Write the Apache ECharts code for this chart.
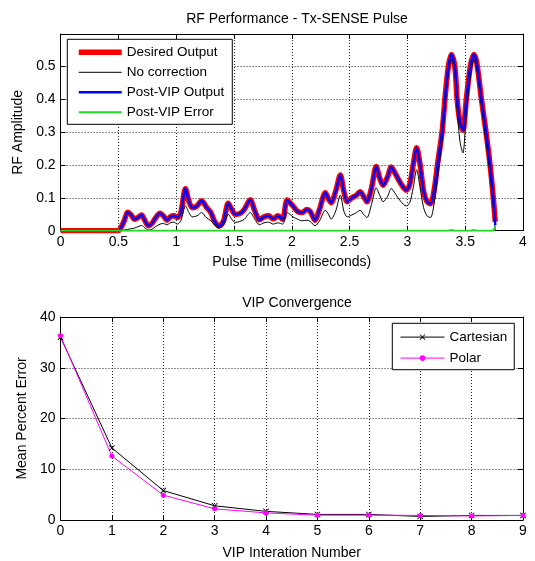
<!DOCTYPE html>
<html><head><meta charset="utf-8">
<script src="https://cdn.jsdelivr.net/npm/echarts@6/dist/echarts.min.js"></script>
<style>html,body{margin:0;padding:0;background:#fff}#c{width:535px;height:561px}</style>
</head><body><div id="c"></div>
<script>
// ---- Top chart data (RF Performance) ----
const pulseTime = [
  0, 0.5, 0.52, 0.55, 0.58, 0.61, 0.64, 0.67, 0.70, 0.73,
  0.76, 0.79, 0.82, 0.86, 0.89, 0.92, 0.95, 0.98, 1.01, 1.04,
  1.08, 1.11, 1.14, 1.18, 1.22, 1.26, 1.30, 1.33, 1.37, 1.41,
  1.45, 1.48, 1.51, 1.55, 1.59, 1.64, 1.68, 1.72, 1.76, 1.80,
  1.84, 1.88, 1.92, 1.96, 2.01, 2.05, 2.09, 2.13, 2.16, 2.20,
  2.24, 2.29, 2.32, 2.34, 2.38, 2.42, 2.45, 2.48, 2.52, 2.56,
  2.59, 2.62, 2.65, 2.69, 2.73, 2.76, 2.79, 2.83, 2.86, 2.90,
  2.94, 2.99, 3.02, 3.05, 3.08, 3.11, 3.14, 3.17, 3.20, 3.23,
  3.26, 3.30, 3.33, 3.355, 3.38, 3.41, 3.43, 3.455, 3.48, 3.51,
  3.545, 3.575, 3.60, 3.64, 3.68, 3.715, 3.743, 3.76
];
const desiredOutput = [
  0, 0, 0.008, 0.03, 0.056, 0.048, 0.035, 0.04, 0.048, 0.03,
  0.015, 0.022, 0.038, 0.053, 0.045, 0.032, 0.042, 0.045, 0.04, 0.055,
  0.127, 0.09, 0.07, 0.075, 0.091, 0.072, 0.055, 0.03, 0.014, 0.03,
  0.083, 0.065, 0.05, 0.052, 0.065, 0.094, 0.06, 0.033, 0.042, 0.045,
  0.036, 0.045, 0.035, 0.093, 0.075, 0.058, 0.055, 0.064, 0.058, 0.032,
  0.065, 0.115, 0.095, 0.085, 0.12, 0.169, 0.12, 0.088, 0.1, 0.108,
  0.118, 0.105, 0.088, 0.13, 0.195, 0.16, 0.138, 0.165, 0.193, 0.17,
  0.145, 0.123, 0.14, 0.2, 0.252, 0.2, 0.12, 0.088, 0.082, 0.12,
  0.2, 0.3, 0.42, 0.5, 0.535, 0.5, 0.4, 0.33, 0.305, 0.4,
  0.5, 0.535, 0.51, 0.4, 0.3, 0.2, 0.1, 0.027
];
const noCorrection = [
  0, 0, 0, 0.002, 0.004, 0.006, 0.008, 0.012, 0.016, 0.008,
  0.002, 0.004, 0.012, 0.02, 0.022, 0.018, 0.024, 0.026, 0.02, 0.03,
  0.075, 0.055, 0.042, 0.045, 0.055, 0.04, 0.03, 0.018, 0.008, 0.018,
  0.05, 0.035, 0.025, 0.028, 0.035, 0.055, 0.035, 0.018, 0.024, 0.026,
  0.02, 0.024, 0.02, 0.055, 0.042, 0.035, 0.03, 0.032, 0.028, 0.015,
  0.03, 0.062, 0.048, 0.035, 0.06, 0.108, 0.06, 0.042, 0.048, 0.055,
  0.062, 0.05, 0.04, 0.08, 0.13, 0.108, 0.088, 0.105, 0.128, 0.11,
  0.09, 0.075, 0.085, 0.13, 0.185, 0.13, 0.07, 0.045, 0.04, 0.08,
  0.16, 0.27, 0.39, 0.48, 0.52, 0.48, 0.37, 0.27, 0.236, 0.36,
  0.47, 0.52, 0.49, 0.38, 0.27, 0.17, 0.07, 0
];
const postVipOutput = [
  0, 0, 0.008, 0.03, 0.056, 0.048, 0.035, 0.04, 0.048, 0.03,
  0.015, 0.022, 0.038, 0.053, 0.045, 0.032, 0.042, 0.045, 0.04, 0.055,
  0.127, 0.09, 0.07, 0.075, 0.091, 0.072, 0.055, 0.03, 0.014, 0.03,
  0.083, 0.065, 0.05, 0.052, 0.065, 0.094, 0.06, 0.033, 0.042, 0.045,
  0.036, 0.045, 0.035, 0.093, 0.075, 0.058, 0.055, 0.064, 0.058, 0.032,
  0.065, 0.115, 0.095, 0.085, 0.12, 0.169, 0.12, 0.088, 0.1, 0.108,
  0.118, 0.105, 0.088, 0.13, 0.195, 0.16, 0.138, 0.165, 0.193, 0.17,
  0.145, 0.123, 0.14, 0.2, 0.252, 0.2, 0.12, 0.088, 0.082, 0.12,
  0.2, 0.3, 0.42, 0.5, 0.535, 0.5, 0.4, 0.33, 0.305, 0.4,
  0.5, 0.535, 0.51, 0.4, 0.3, 0.2, 0.1, 0.017
];
const postVipError = [
  0, 0, 0, 0, 0, 0, 0, 0, 0, 0,
  0, 0, 0, 0, 0, 0, 0, 0, 0, 0,
  0, 0, 0, 0, 0, 0, 0, 0, 0, 0,
  0, 0, 0, 0, 0, 0, 0, 0, 0, 0,
  0, 0, 0, 0, 0, 0, 0, 0, 0, 0,
  0, 0, 0, 0, 0, 0, 0, 0, 0, 0,
  0, 0, 0, 0, 0, 0, 0, 0, 0, 0,
  0, 0, 0, 0, 0, 0, 0, 0, 0, 0,
  0, 0, 0, 0, 0.002, 0, 0, 0, 0, 0,
  0, 0.002, 0, 0, 0, 0, 0, 0.012
];
const rfTicks = { min: 0, max: 4, interval: 0.5 };
const ampTicks = { min: 0, max: 0.597, interval: 0.1, showMax: false };

// ---- Bottom chart data (VIP Convergence) ----
const iterations = [0, 1, 2, 3, 4, 5, 6, 7, 8, 9];
const cartesianError = [36.0, 14.2, 5.8, 2.8, 1.7, 1.1, 1.1, 0.7, 0.9, 0.9];
const polarError = [36.3, 12.6, 4.9, 2.2, 1.4, 0.95, 0.95, 0.9, 0.8, 0.9];
const iterTicks = { min: 0, max: 9, interval: 1 };
const errTicks = { min: 0, max: 40, interval: 10, showMax: true };

const FONT = 'Liberation Sans, Arial, sans-serif';
const FS = 13.5;
const FT = 14;
const pair = (xs, ys) => xs.map((x, i) => [x, ys[i]]);

function mainX(grid, t, name, gap) {
  return {
    gridIndex: grid, type: 'value', min: t.min, max: t.max, interval: t.interval,
    position: 'bottom',
    name: name, nameLocation: 'middle', nameGap: gap,
    nameTextStyle: { color: '#000', fontSize: FT, fontFamily: FONT },
    axisLine: { show: true, onZero: false, lineStyle: { color: '#000', width: 1 } },
    axisTick: { show: true, inside: true, length: 5, lineStyle: { color: '#000' } },
    axisLabel: { color: '#000', fontSize: FT, fontFamily: FONT, margin: 4,
      formatter: v => String(+v.toFixed(2)) },
    splitLine: { show: true, lineStyle: { color: '#222', type: [1, 2], width: 1 } }
  };
}
function mirrorX(grid, t) {
  return {
    gridIndex: grid, type: 'value', min: t.min, max: t.max, interval: t.interval,
    position: 'top',
    axisLine: { show: true, onZero: false, lineStyle: { color: '#000', width: 1 } },
    axisTick: { show: true, inside: true, length: 5, lineStyle: { color: '#000' } },
    axisLabel: { show: false }, splitLine: { show: false }
  };
}
function mainY(grid, t, name, gap) {
  return {
    gridIndex: grid, type: 'value', min: t.min, max: t.max, interval: t.interval,
    position: 'left',
    name: name, nameLocation: 'middle', nameGap: gap, nameRotate: 90,
    nameTextStyle: { color: '#000', fontSize: FT, fontFamily: FONT },
    axisLine: { show: true, onZero: false, lineStyle: { color: '#000', width: 1 } },
    axisTick: { show: true, inside: true, length: 5, lineStyle: { color: '#000' } },
    axisLabel: { color: '#000', fontSize: FT, fontFamily: FONT, margin: 5, showMaxLabel: t.showMax,
      formatter: v => String(+v.toFixed(2)) },
    splitLine: { show: true, lineStyle: { color: '#222', type: [1, 2], width: 1 } }
  };
}
function mirrorY(grid, t) {
  return {
    gridIndex: grid, type: 'value', min: t.min, max: t.max, interval: t.interval,
    position: 'right',
    axisLine: { show: true, onZero: false, lineStyle: { color: '#000', width: 1 } },
    axisTick: { show: true, inside: true, length: 5, lineStyle: { color: '#000' } },
    axisLabel: { show: false }, splitLine: { show: false }
  };
}

const crossPath = 'path://M0,1L1,0L5,4L9,0L10,1L6,5L10,9L9,10L5,6L1,10L0,9L4,5Z';

const chart = echarts.init(document.getElementById('c'), null, { renderer: 'canvas' });
chart.setOption({
  animation: false,
  backgroundColor: '#fff',
  title: [
    { text: 'RF Performance - Tx-SENSE Pulse', left: 292, top: 7, textAlign: 'center',
      textStyle: { color: '#000', fontSize: FT, fontWeight: 'normal', fontFamily: FONT } },
    { text: 'VIP Convergence', left: 292, top: 291, textAlign: 'center',
      textStyle: { color: '#000', fontSize: FT, fontWeight: 'normal', fontFamily: FONT } }
  ],
  grid: [
    { left: 60.6, top: 34, width: 462.4, height: 196.7 },
    { left: 60.5, top: 317, width: 462.5, height: 204.7 }
  ],
  legend: [
    { data: ['Desired Output', 'No correction', 'Post-VIP Output', 'Post-VIP Error'],
      orient: 'vertical', left: 67.3, top: 39.3,
      itemWidth: 43, itemHeight: 14, itemGap: 6, padding: [6, 8, 5, 8.7],
      borderColor: '#000', borderWidth: 1, backgroundColor: '#fff',
      itemStyle: { opacity: 0 },
      lineStyle: { width: 'inherit' },
      textStyle: { color: '#000', fontSize: FS, fontFamily: FONT } },
    { data: ['Cartesian', 'Polar'],
      orient: 'vertical', left: 392.3, top: 323.3,
      itemWidth: 44, itemHeight: 7, itemGap: 7, padding: [6.8, 7, 4.6, 7.7],
      borderColor: '#000', borderWidth: 1, backgroundColor: '#fff',
      lineStyle: { width: 'inherit' },
      textStyle: { color: '#000', fontSize: FS, fontFamily: FONT } }
  ],
  xAxis: [
    mainX(0, rfTicks, 'Pulse Time (milliseconds)', 24),
    mirrorX(0, rfTicks),
    mainX(1, iterTicks, 'VIP Interation Number', 26),
    mirrorX(1, iterTicks)
  ],
  yAxis: [
    mainY(0, ampTicks, 'RF Amplitude', 30),
    mirrorY(0, ampTicks),
    mainY(1, errTicks, 'Mean Percent Error', 23),
    mirrorY(1, errTicks)
  ],
  series: [
    { name: 'Desired Output', type: 'line', xAxisIndex: 0, yAxisIndex: 0, symbol: 'none',
      smooth: 0.3, data: pair(pulseTime, desiredOutput),
      lineStyle: { color: '#ff0000', width: 5.5 }, itemStyle: { color: '#ff0000' } },
    { name: 'No correction', type: 'line', xAxisIndex: 0, yAxisIndex: 0, symbol: 'none',
      smooth: 0.3, data: pair(pulseTime, noCorrection),
      lineStyle: { color: '#000', width: 1 }, itemStyle: { color: '#000' } },
    { name: 'Post-VIP Output', type: 'line', xAxisIndex: 0, yAxisIndex: 0, symbol: 'none',
      smooth: 0.3, data: pair(pulseTime, postVipOutput),
      lineStyle: { color: '#0000ff', width: 2.5 }, itemStyle: { color: '#0000ff' } },
    { name: 'Post-VIP Error', type: 'line', xAxisIndex: 0, yAxisIndex: 0, symbol: 'none',
      data: pair(pulseTime, postVipError),
      lineStyle: { color: '#22dd22', width: 2 }, itemStyle: { color: '#22dd22' } },
    { name: 'Cartesian', type: 'line', xAxisIndex: 2, yAxisIndex: 2,
      symbol: crossPath, symbolSize: 6, showSymbol: true,
      data: pair(iterations, cartesianError),
      lineStyle: { color: '#000', width: 1 }, itemStyle: { color: '#000' } },
    { name: 'Polar', type: 'line', xAxisIndex: 2, yAxisIndex: 2,
      symbol: 'circle', symbolSize: 5, showSymbol: true,
      data: pair(iterations, polarError),
      lineStyle: { color: '#ff00ff', width: 1 }, itemStyle: { color: '#ff00ff' } }
  ]
});
</script>
</body></html>
